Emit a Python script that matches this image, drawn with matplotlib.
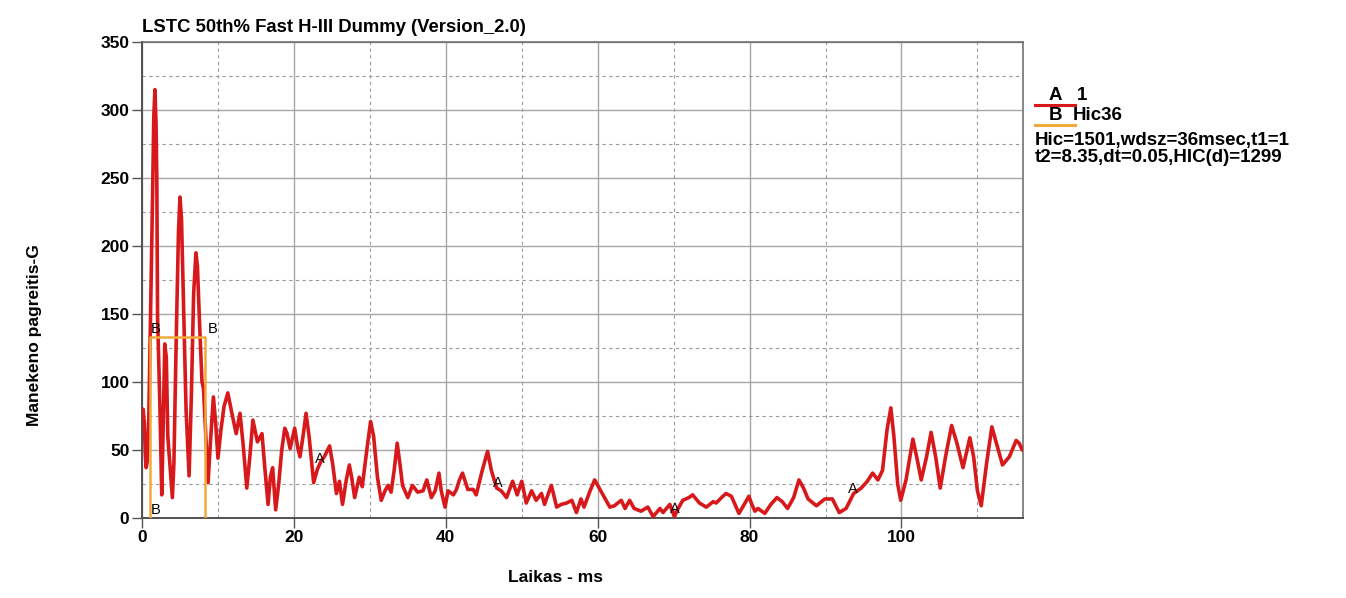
import numpy as np
import matplotlib
matplotlib.use('Agg')
import matplotlib.pyplot as plt
from matplotlib.lines import Line2D
from matplotlib.ticker import MultipleLocator

# head acceleration trace, time in ms, acceleration in G
time_ms = [
    0.0, 0.15, 0.3, 0.45, 0.55, 0.7, 0.9, 1.1, 1.25, 1.4, 1.55, 1.7, 1.85, 1.95, 2.05, 2.35, 2.6, 2.8, 3.0, 3.2,
    3.4, 3.7, 4.0, 4.2, 4.5, 4.8, 5.0, 5.2, 5.5, 5.8, 6.2, 6.5, 6.8, 7.1, 7.3, 7.6, 7.9, 8.1, 8.4, 8.7,
    9.0, 9.4, 9.7, 10.0, 10.4, 10.8, 11.3, 11.8, 12.4, 12.9, 13.3, 13.8, 14.2, 14.6, 15.2, 15.8, 16.2, 16.6, 16.9, 17.2,
    17.6, 18.0, 18.4, 18.8, 19.1, 19.5, 20.1, 20.5, 20.8, 21.2, 21.6, 22.0, 22.6, 23.1, 23.6, 24.0, 24.7, 25.1, 25.6, 26.0,
    26.4, 26.9, 27.3, 27.6, 28.0, 28.6, 29.0, 29.6, 30.1, 30.5, 31.0, 31.5, 32.0, 32.4, 32.8, 33.2, 33.6, 34.0, 34.3, 35.0,
    35.6, 36.3, 37.0, 37.5, 38.1, 38.6, 39.1, 39.4, 39.9, 40.3, 41.0, 41.4, 41.8, 42.2, 42.9, 43.6, 44.0, 44.8, 45.5, 46.0,
    46.7, 47.3, 48.0, 48.8, 49.4, 50.0, 50.6, 51.3, 51.9, 52.6, 53.0, 53.9, 54.6, 55.2, 55.9, 56.6, 57.2, 57.8, 58.2, 59.0,
    59.6, 60.2, 60.7, 61.6, 62.2, 63.1, 63.6, 64.2, 64.8, 65.7, 66.6, 67.3, 68.2, 68.6, 69.5, 70.1, 70.6, 71.2, 72.0, 72.5,
    73.4, 74.3, 75.2, 75.6, 76.3, 76.9, 77.6, 78.6, 79.3, 79.9, 80.3, 80.7, 81.1, 82.0, 82.8, 83.6, 84.3, 85.0, 85.8, 86.5,
    87.1, 87.7, 88.8, 89.9, 90.9, 91.8, 92.7, 93.7, 94.7, 95.5, 96.2, 96.9, 97.5, 98.1, 98.6, 99.0, 99.5, 99.9, 100.6, 101.5,
    102.0, 102.6, 103.3, 103.9, 104.5, 105.1, 105.8, 106.6, 107.3, 108.1, 109.0, 109.5, 110.0, 110.5, 111.2, 111.9, 112.5, 113.3, 114.2, 115.1,
    115.5, 115.9,
]
accel_g = [
    79, 80, 70, 45, 37, 42, 75, 140, 189, 240, 295, 315, 290, 250, 148, 84, 17, 70, 128, 118,
    60, 38, 15, 40, 130, 210, 236, 220, 150, 80, 31, 90, 165, 195, 185, 140, 100, 95, 60, 26,
    55, 89, 70, 44, 65, 82, 92, 78, 62, 77, 55, 22, 45, 72, 56, 62, 35, 10, 30, 37,
    6, 25, 50, 66, 62, 51, 66, 52, 45, 60, 77, 60, 26, 36, 42, 45, 53, 40, 18, 27,
    10, 28, 39, 30, 15, 30, 23, 50, 71, 60, 30, 13, 20, 24, 19, 35, 55, 38, 24, 15,
    24, 19, 20, 28, 15, 20, 33, 20, 8, 20, 17, 21, 28, 33, 21, 21, 17, 35, 49, 35,
    22, 20, 15, 27, 17, 27, 11, 20, 13, 18, 10, 24, 8, 10, 11, 13, 4, 14, 8, 20,
    28, 22, 17, 8, 9, 13, 7, 13, 7, 5, 8, 1, 7, 4, 10, 1, 7, 13, 15, 17,
    11, 8, 12, 11, 15, 18, 16, 3.4, 10, 16, 10, 5, 7, 3.4, 10, 15, 12, 7, 15, 28,
    22, 14, 9, 14, 14, 4, 7, 18, 22, 27, 33, 28, 35, 65, 81, 60, 25, 13, 28, 58,
    45, 28, 45, 63, 45, 22, 45, 68, 55, 37, 59, 45, 20, 9, 40, 67, 55, 39, 45, 57,
    55, 50,
]

# HIC36 window
hic_value = 1501
hic_t1 = 1.0
hic_t2 = 8.35
hic_dt = 0.05
hic_d = 1299

curve_label_times = [23.4, 46.8, 70.2, 93.6]

x_ticks = [0, 20, 40, 60, 80, 100]
y_ticks = [0, 50, 100, 150, 200, 250, 300, 350]


def draw_figure():
    plt.rcParams['font.family'] = ['Liberation Sans', 'DejaVu Sans']
    plt.rcParams['font.weight'] = 'bold'

    fig = plt.figure(figsize=(13.46, 5.98), dpi=100)
    ax1 = fig.add_axes([142 / 1346, 1 - 518 / 598, (1023 - 142) / 1346, (518 - 42) / 598])

    red = '#d7191c'
    orange = '#f2a93b'

    ax1.plot(time_ms, accel_g, color=red, linewidth=2.6, zorder=3,
             solid_joinstyle='round', solid_capstyle='round')

    # average acceleration over the window follows from the HIC value
    avg_g = (hic_value / ((hic_t2 - hic_t1) / 1000.0)) ** 0.4
    ax1.plot([hic_t1, hic_t1, hic_t2, hic_t2], [0, avg_g, avg_g, 0], color=orange, linewidth=1.8, zorder=4)
    ax1.text(hic_t1 + 0.2, avg_g + 1, 'B', fontsize=10.5, fontweight='normal', va='bottom', ha='left', zorder=5)
    ax1.text(hic_t2 + 0.3, avg_g + 1, 'B', fontsize=10.5, fontweight='normal', va='bottom', ha='left', zorder=5)
    ax1.text(hic_t1 + 0.2, 1, 'B', fontsize=10.5, fontweight='normal', va='bottom', ha='left', zorder=5)

    for t in curve_label_times:
        g = np.interp(t, time_ms, accel_g)
        ax1.text(t, g - 1, 'A', fontsize=10.5, fontweight='normal', color='#1a0a0a',
                 va='bottom', ha='center', zorder=5)

    ax1.set_xlim(0, 116)
    ax1.set_ylim(0, 350)
    ax1.set_xticks(x_ticks)
    ax1.set_yticks(y_ticks)
    ax1.xaxis.set_minor_locator(MultipleLocator(10))
    ax1.yaxis.set_minor_locator(MultipleLocator(25))

    ax1.grid(True, which='major', color='#a6a6a6', linestyle='-', linewidth=1.0)
    ax1.grid(True, which='minor', color='#9a9a9a', linestyle=(0, (3, 3)), linewidth=0.8)
    ax1.set_axisbelow(True)

    ax1.tick_params(which='major', length=7, width=1.0, color='#555555', labelsize=12.5, pad=2)
    ax1.tick_params(which='minor', length=0)
    for label in ax1.get_xticklabels() + ax1.get_yticklabels():
        label.set_fontweight('bold')

    for side in ['left', 'bottom']:
        ax1.spines[side].set_color('#505050')
        ax1.spines[side].set_linewidth(1.4)
    for side in ['right', 'top']:
        ax1.spines[side].set_color('#666666')
        ax1.spines[side].set_linewidth(1.1)

    fig.text(142 / 1346, 1 - 28 / 598, 'LSTC 50th% Fast H-III Dummy (Version_2.0)',
             fontsize=13.3, fontweight='bold', ha='left', va='center')
    fig.text(35 / 1346, 1 - 335 / 598, 'Manekeno pagreitis-G', rotation=90,
             fontsize=12.5, fontweight='bold', ha='center', va='center')
    fig.text(555 / 1346, 1 - 578 / 598, 'Laikas - ms',
             fontsize=12.5, fontweight='bold', ha='center', va='center')

    # legend block on the right
    x0 = 1035 / 1346
    x1 = 1075 / 1346
    fig.add_artist(Line2D([x0, x1], [1 - 105 / 598, 1 - 105 / 598], color=red, linewidth=2.2))
    fig.text(1055 / 1346, 1 - 95 / 598, 'A', fontsize=13.5, fontweight='bold', ha='center', va='center')
    fig.text(1077 / 1346, 1 - 95 / 598, '1', fontsize=13.5, fontweight='bold', ha='left', va='center')
    fig.add_artist(Line2D([x0, x1], [1 - 125 / 598, 1 - 125 / 598], color=orange, linewidth=2.2))
    fig.text(1056 / 1346, 1 - 115 / 598, 'B', fontsize=13.5, fontweight='bold', ha='center', va='center')
    fig.text(1073 / 1346, 1 - 115 / 598, 'Hic36', fontsize=13.5, fontweight='bold', ha='left', va='center')
    fig.text(x0, 1 - 140 / 598, 'Hic=%d,wdsz=36msec,t1=%g' % (hic_value, hic_t1),
             fontsize=13.5, fontweight='bold', ha='left', va='center')
    fig.text(x0, 1 - 158 / 598, 't2=%.2f,dt=%.2f,HIC(d)=%d' % (hic_t2, hic_dt, hic_d),
             fontsize=13.5, fontweight='bold', ha='left', va='center')

    fig.savefig('out.png', dpi=100)


if __name__ == '__main__':
    draw_figure()
